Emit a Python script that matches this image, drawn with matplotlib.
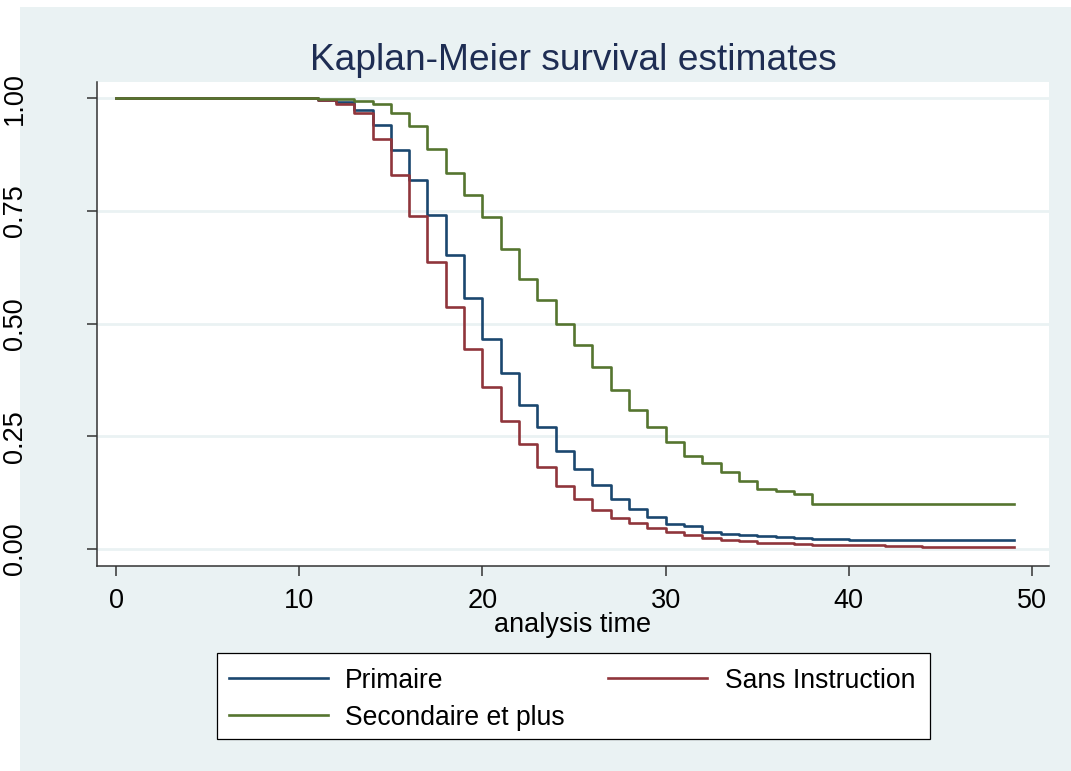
import matplotlib
matplotlib.use("Agg")
import matplotlib.pyplot as plt
from matplotlib.patches import Rectangle
from matplotlib.lines import Line2D

# ---- data ----
labels = ["Primaire", "Sans Instruction", "Secondaire et plus"]
colors = ["#1a476f", "#90353b", "#55752f"]

t_primaire = [0, 11, 12, 13, 14, 15, 16, 17, 18, 19, 20, 21, 22, 23, 24, 25, 26, 27,
              28, 29, 30, 31, 32, 33, 34, 35, 36, 37, 38, 40, 49]
s_primaire = [1.0, 0.997, 0.992, 0.975, 0.942, 0.885, 0.820, 0.742, 0.652, 0.558, 0.466,
              0.390, 0.319, 0.271, 0.218, 0.177, 0.142, 0.110, 0.089, 0.072, 0.055, 0.050,
              0.038, 0.033, 0.031, 0.029, 0.027, 0.025, 0.023, 0.020, 0.020]

t_sans = [0, 11, 12, 13, 14, 15, 16, 17, 18, 19, 20, 21, 22, 23, 24, 25, 26, 27, 28,
          29, 30, 31, 32, 33, 34, 35, 37, 38, 40, 42, 44, 49]
s_sans = [1.0, 0.997, 0.987, 0.968, 0.910, 0.831, 0.739, 0.637, 0.538, 0.445, 0.359,
          0.285, 0.232, 0.182, 0.140, 0.112, 0.086, 0.068, 0.057, 0.047, 0.038, 0.031,
          0.025, 0.020, 0.017, 0.014, 0.012, 0.010, 0.009, 0.007, 0.005, 0.005]

t_second = [0, 11, 13, 14, 15, 16, 17, 18, 19, 20, 21, 22, 23, 24, 25, 26, 27, 28, 29,
            30, 31, 32, 33, 34, 35, 36, 37, 38, 49]
s_second = [1.0, 0.998, 0.995, 0.988, 0.968, 0.939, 0.888, 0.835, 0.786, 0.736, 0.665,
            0.600, 0.553, 0.499, 0.452, 0.403, 0.353, 0.308, 0.270, 0.238, 0.206, 0.192,
            0.171, 0.151, 0.134, 0.129, 0.123, 0.100, 0.100]

x_ticks = [0, 10, 20, 30, 40, 50]
y_ticks = [0.0, 0.25, 0.5, 0.75, 1.0]
y_ticklabels = ["0.00", "0.25", "0.50", "0.75", "1.00"]
title = "Kaplan-Meier survival estimates"
xlabel = "analysis time"

# ---- style ----
plt.rcParams["font.family"] = ["Liberation Sans", "DejaVu Sans"]
BG = "#EAF2F3"
W, H = 1071, 771

def fx(px):
    return px / W

def fy(py):
    return 1 - py / H

fig = plt.figure(figsize=(W / 100, H / 100), dpi=100, facecolor="white")
fig.patches.append(Rectangle((fx(20), 0), 1 - fx(20), fy(7), transform=fig.transFigure,
                             facecolor=BG, edgecolor="none", zorder=-5))

ax = fig.add_axes([fx(97), fy(566), fx(1049) - fx(97), (566 - 82) / H])
ax.set_zorder(1)
ax.set_facecolor("white")

series = [(t_primaire, s_primaire), (t_sans, s_sans), (t_second, s_second)]
for (t, s), c, lab in zip(series, colors, labels):
    ax.step(t, s, where="post", color=c, lw=1.9, label=lab, zorder=3)

ax.set_xlim(-1.04, 50.93)
ax.set_ylim(-0.0377, 1.0366)
ax.set_xticks(x_ticks)
ax.set_yticks(y_ticks)
ax.set_yticklabels(y_ticklabels, rotation=90, va="center")
ax.grid(axis="y", color=BG, lw=2, zorder=1)
ax.set_axisbelow(True)
for sp in ["top", "right"]:
    ax.spines[sp].set_visible(False)
for sp in ["left", "bottom"]:
    ax.spines[sp].set_color("#333333")
    ax.spines[sp].set_linewidth(1.1)
ax.tick_params(axis="both", length=7.5, width=1.1, color="#333333", labelsize=19.5)
ax.tick_params(axis="y", pad=42)
ax.tick_params(axis="x", pad=8)
ax.set_xlabel(xlabel, fontsize=19.5, labelpad=-1)

fig.text(fx(573.5), fy(60), title, ha="center", va="center", fontsize=26.7, color="#1e2d53")

# ---- legend (manual, figure coords) ----
fig.patches.append(Rectangle((fx(216.7), fy(739)), fx(930) - fx(216.7), (739 - 652.7) / H,
                             transform=fig.transFigure, facecolor="white",
                             edgecolor="black", lw=0.9, zorder=2))
leg_pos = [(229, 678, 345), (608, 678, 725), (229, 715, 345)]
for (lx, ly, tx), c, lab in zip(leg_pos, colors, labels):
    fig.lines.append(Line2D([fx(lx), fx(lx + 99)], [fy(ly), fy(ly)], transform=fig.transFigure,
                            color=c, lw=1.9, zorder=3))
    fig.text(fx(tx), fy(ly + 3), lab, ha="left", va="center", fontsize=19.1, zorder=4)

fig.savefig("out.png", dpi=100, facecolor="white")
